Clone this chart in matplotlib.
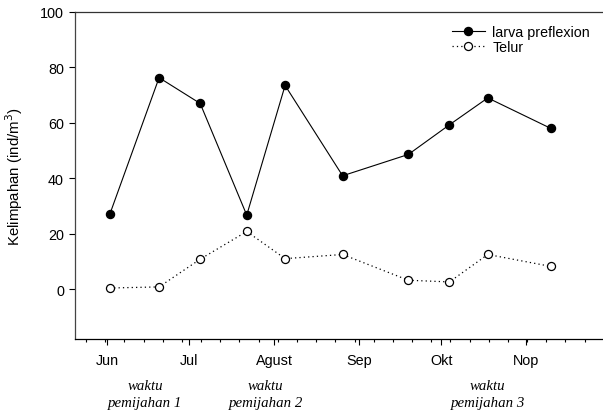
import matplotlib
matplotlib.use("Agg")
import matplotlib.pyplot as plt
import matplotlib.dates as mdates
import numpy as np
import pandas as pd

# ---- data ----
dates = ["2010-06-02", "2010-06-20", "2010-07-05", "2010-07-22", "2010-08-05",
         "2010-08-26", "2010-09-19", "2010-10-04", "2010-10-18", "2010-11-10"]
larva = [27.0, 76.3, 67.0, 26.7, 73.5, 40.9, 48.6, 59.3, 69.0, 58.0]
telur = [0.4, 0.8, 10.8, 20.8, 11.0, 12.5, 3.2, 2.6, 12.5, 8.2]
month_ticks = ["2010-06-01", "2010-07-01", "2010-08-01", "2010-09-01", "2010-10-01", "2010-11-01"]
month_labels = ["Jun", "Jul", "Agust", "Sep", "Okt", "Nop"]
spawn_dates = ["2010-06-15", "2010-07-29", "2010-10-18"]
spawn_labels = ["waktu\npemijahan 1", "waktu\npemijahan 2", "waktu\npemijahan 3"]
y_ticks = [0, 20, 40, 60, 80, 100]

plt.rcParams['font.family'] = ['Liberation Sans', 'DejaVu Sans']

W, H = 603, 414
fig = plt.figure(figsize=(W / 100, H / 100), dpi=100)
ax = fig.add_axes([75 / W, (H - 340) / H, (W - 75) / W + 0.002, (340 - 13) / H])

x = mdates.date2num(pd.to_datetime(dates))
jun1 = mdates.date2num(pd.Timestamp("2010-06-01"))

ax.plot(x, larva, '-', color='black', lw=0.8, marker='o', ms=5.8,
        mfc='black', mec='black', label='larva preflexion')
ax.plot(x, telur, linestyle=(0, (1, 2.5)), color='black', lw=0.9, marker='o', ms=5.8,
        mfc='white', mec='black', mew=0.9, label='Telur')

ax.set_xlim(jun1 - 11.7, jun1 + 181.5)
ax.set_ylim(-18, 100)

ax.set_yticks(y_ticks)
ax.set_xticks(mdates.date2num(pd.to_datetime(month_ticks)))
ax.set_xticklabels(month_labels)
ax.set_xticks(np.arange(jun1 - 7.66, jun1 + 182, 7.0), minor=True)

ax.spines['right'].set_visible(False)
for s in ['left', 'bottom', 'top']:
    ax.spines[s].set_linewidth(0.9)
ax.spines['left'].set_color('#444444')
ax.spines['top'].set_color('#333333')

ax.tick_params(axis='both', which='major', direction='out', length=4, width=0.8,
               labelsize=10.4, colors='black')
ax.tick_params(axis='x', which='major', pad=6)
ax.tick_params(axis='x', which='minor', direction='out', length=2.5, width=0.8)
ax.tick_params(axis='y', which='major', pad=4)
ax.tick_params(top=False, right=False)

ax.set_ylabel('Kelimpahan (ind/m$^3$)', fontsize=10.8, labelpad=10.5)

for d, lab in zip(spawn_dates, spawn_labels):
    xd = mdates.date2num(pd.Timestamp(d))
    ax.annotate(lab, xy=(xd, 0), xycoords=('data', 'figure fraction'),
                xytext=(0, (414 - 395)), textcoords='offset pixels',
                ha='center', va='center', fontsize=10.7, style='italic',
                family=['Liberation Serif', 'DejaVu Serif'], linespacing=1.35)

leg = ax.legend(loc='upper left', bbox_to_anchor=(451.7 / W, 1 - 26 / H),
                bbox_transform=fig.transFigure, frameon=False, fontsize=10.3,
                handlelength=2.3, handletextpad=0.55, labelspacing=0.05,
                borderpad=0, borderaxespad=0)

fig.savefig('out.png', dpi=100)
